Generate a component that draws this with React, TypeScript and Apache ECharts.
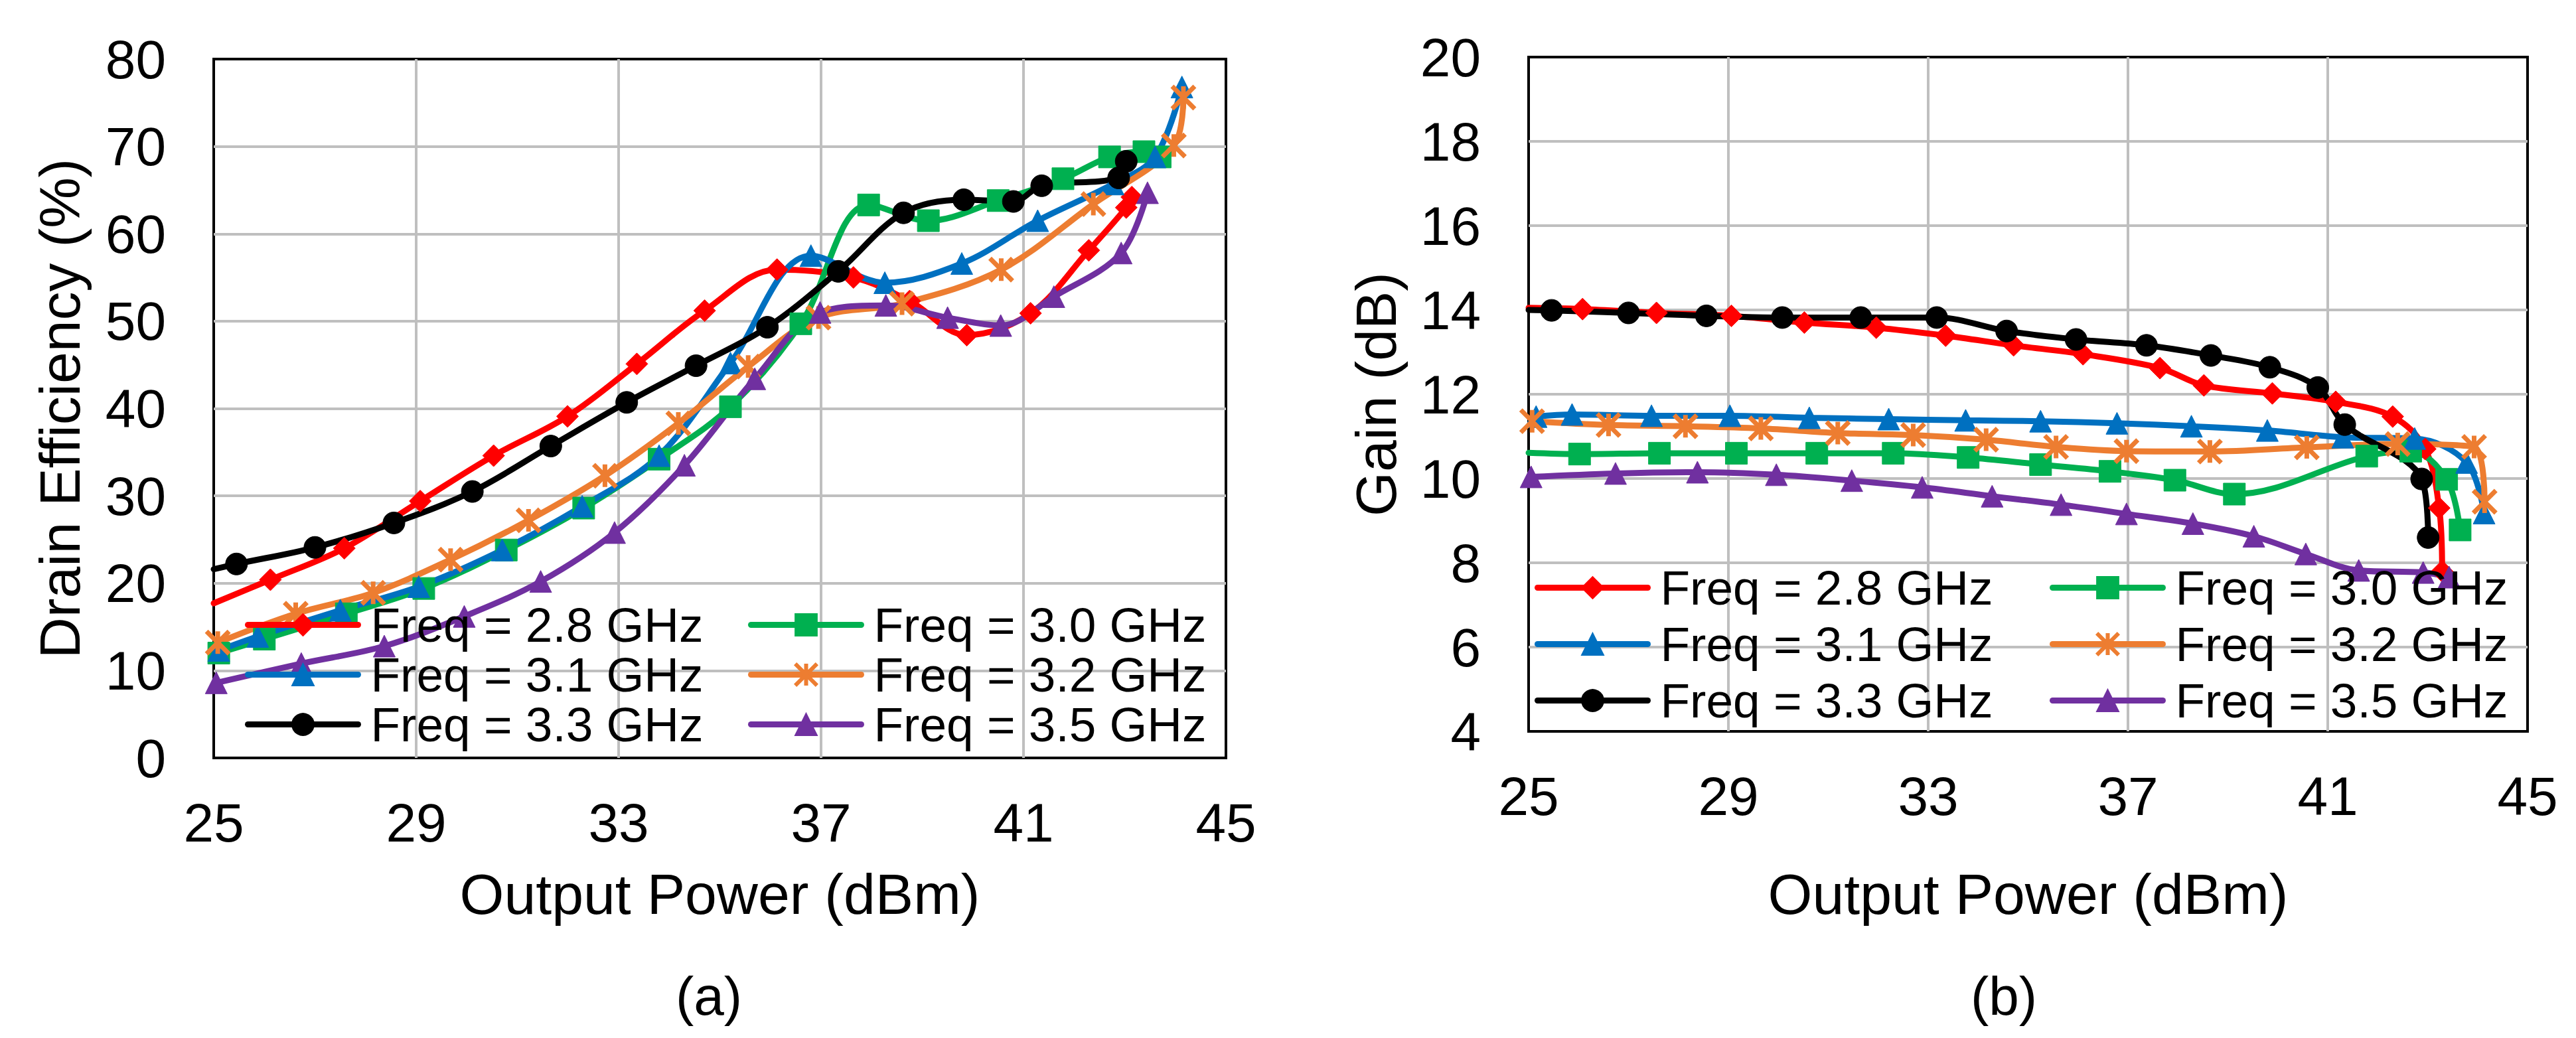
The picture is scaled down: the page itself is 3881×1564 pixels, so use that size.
import { useEffect, useRef } from "react";
import * as echarts from "echarts";

const FONT = "Liberation Sans, Arial, sans-serif";
const STAR = "path://M0,0L10,10M10,0L0,10M5,0L5,10";

const NAMES = ["Freq = 2.8 GHz", "Freq = 3.0 GHz", "Freq = 3.1 GHz", "Freq = 3.2 GHz", "Freq = 3.3 GHz", "Freq = 3.5 GHz"];
const COLORS = ["#FF0000", "#00B050", "#0070C0", "#ED7D31", "#000000", "#7030A0"];
const SYMBOLS = ["diamond", "rect", "triangle", STAR, "circle", "triangle"];

const X_TICKS = [25, 29, 33, 37, 41, 45];

// (a) drain efficiency (%) vs output power (dBm)
const de28X = [25.0, 26.12, 27.58, 29.08, 30.53, 31.99, 33.36, 34.7, 36.13, 37.64, 38.75, 39.88, 41.14, 42.29, 43.03, 43.14];
const de28Y = [17.7, 20.4, 24.0, 29.4, 34.6, 39.1, 45.1, 51.2, 55.9, 55.0, 52.3, 48.4, 50.9, 58.1, 63.0, 64.2];
const de30X = [25.1, 26.0, 27.62, 29.15, 30.78, 32.31, 33.8, 35.21, 36.6, 37.94, 39.12, 40.5, 41.78, 42.7, 43.38, 43.7];
const de30Y = [12.0, 13.6, 16.5, 19.4, 23.8, 28.6, 34.2, 40.2, 49.7, 63.3, 61.5, 63.8, 66.3, 68.8, 69.4, 68.8];
const de31X = [25.1, 25.87, 27.5, 29.05, 30.7, 32.28, 33.8, 35.21, 36.8, 38.26, 39.78, 41.28, 42.77, 43.6, 44.13];
const de31Y = [12.3, 13.9, 16.9, 19.6, 23.8, 28.8, 34.6, 45.2, 57.5, 54.4, 56.6, 61.5, 65.7, 68.8, 76.8];
const de32X = [25.08, 26.62, 28.15, 29.68, 31.22, 32.73, 34.18, 35.56, 36.95, 38.6, 40.56, 42.38, 43.97, 44.16];
const de32Y = [13.2, 16.5, 18.9, 22.7, 27.2, 32.3, 38.3, 44.8, 50.4, 52.0, 55.9, 63.4, 70.1, 75.6];
const de33X = [25.0, 25.45, 27.0, 28.56, 30.11, 31.66, 33.16, 34.53, 35.94, 37.34, 38.63, 39.82, 40.8, 41.36, 42.88, 43.03];
const de33Y = [21.6, 22.2, 24.1, 26.9, 30.5, 35.7, 40.7, 44.9, 49.3, 55.7, 62.4, 63.9, 63.7, 65.5, 66.4, 68.3];
const de35X = [25.05, 26.73, 28.37, 29.95, 31.46, 32.92, 34.3, 35.69, 36.98, 38.28, 39.5, 40.55, 41.6, 42.93, 43.45];
const de35Y = [8.6, 10.8, 12.8, 16.2, 20.2, 25.8, 33.5, 43.4, 51.0, 51.8, 50.4, 49.5, 52.8, 57.8, 64.7];

// (b) gain (dB) vs output power (dBm)
const g28X = [25.0, 26.08, 27.56, 29.06, 30.52, 31.96, 33.35, 34.71, 36.1, 37.64, 38.52, 39.89, 41.16, 42.3, 42.95, 43.23, 43.29];
const g28Y = [14.05, 14.02, 13.93, 13.86, 13.7, 13.58, 13.39, 13.16, 12.95, 12.62, 12.21, 12.02, 11.82, 11.47, 10.7, 9.3, 7.8];
const g30X = [25.0, 26.02, 27.62, 29.16, 30.77, 32.3, 33.8, 35.25, 36.64, 37.94, 39.13, 41.78, 42.66, 43.38, 43.65];
const g30Y = [10.61, 10.58, 10.6, 10.6, 10.6, 10.6, 10.5, 10.33, 10.17, 9.96, 9.63, 10.53, 10.65, 9.98, 8.78];
const g31X = [25.15, 25.87, 27.46, 29.03, 30.62, 32.21, 33.75, 35.25, 36.78, 38.27, 39.79, 41.3, 42.74, 43.78, 44.13];
const g31Y = [11.47, 11.52, 11.49, 11.49, 11.44, 11.41, 11.38, 11.36, 11.31, 11.24, 11.14, 10.98, 10.95, 10.38, 9.18];
const g32X = [25.07, 26.6, 28.14, 29.65, 31.19, 32.7, 34.16, 35.56, 36.97, 38.64, 40.58, 42.4, 43.93, 44.14];
const g32Y = [11.36, 11.27, 11.24, 11.19, 11.08, 11.03, 10.92, 10.75, 10.65, 10.64, 10.74, 10.82, 10.75, 9.45];
const g33X = [25.0, 25.46, 27.0, 28.56, 30.08, 31.65, 33.17, 34.57, 35.96, 37.37, 38.66, 39.84, 40.8, 41.34, 42.88, 43.01];
const g33Y = [14.0, 13.99, 13.93, 13.86, 13.82, 13.82, 13.82, 13.5, 13.3, 13.16, 12.92, 12.64, 12.16, 11.28, 9.99, 8.6];
const g35X = [25.05, 26.74, 28.38, 29.96, 31.47, 32.88, 34.28, 35.66, 36.97, 38.3, 39.52, 40.56, 41.62, 42.91, 43.43];
const g35Y = [10.04, 10.12, 10.15, 10.09, 9.95, 9.79, 9.58, 9.38, 9.16, 8.93, 8.63, 8.21, 7.82, 7.77, 7.66];

const DE_SETS = [[de28X, de28Y], [de30X, de30Y], [de31X, de31Y], [de32X, de32Y], [de33X, de33Y], [de35X, de35Y]];
const GAIN_SETS = [[g28X, g28Y], [g30X, g30Y], [g31X, g31Y], [g32X, g32Y], [g33X, g33Y], [g35X, g35Y]];
// series whose curve enters at the left frame edge without a visible marker there
const DE_LEAD = [0, 4];
const GAIN_LEAD = [0, 1, 4];

function makeSeries(sets: number[][][], lead: number[], axis: number) {
  return sets.map(([xs, ys], i) => ({
    type: "line" as const,
    name: NAMES[i],
    xAxisIndex: axis,
    yAxisIndex: axis,
    smooth: 0.35,
    clip: true,
    symbol: SYMBOLS[i],
    symbolSize: SYMBOLS[i] === STAR ? 34 : 33,
    symbolKeepAspect: true,
    lineStyle: { width: 9, color: COLORS[i], cap: "round" as const },
    itemStyle: { color: COLORS[i], borderColor: COLORS[i], borderWidth: SYMBOLS[i] === STAR ? 7 : 1 },
    data: xs.map((x, k) => (k === 0 && lead.includes(i) ? { value: [x, ys[k]], symbol: "none" } : [x, ys[k]])),
  }));
}

function legendCol(left: number, top: number, lh: number, idx: number[]) {
  return {
    orient: "vertical" as const,
    left,
    top,
    padding: 0,
    itemGap: 0,
    itemWidth: 166,
    itemHeight: 41,
    selectedMode: false,
    lineStyle: { width: 9 },
    textStyle: { fontFamily: FONT, fontSize: 73, color: "#000", lineHeight: lh, padding: [0, 0, 0, 14] },
    data: idx.map((i) =>
      SYMBOLS[i] === STAR
        ? { name: NAMES[i], itemStyle: { color: COLORS[i], borderColor: COLORS[i], borderWidth: 6 } }
        : { name: NAMES[i] }
    ),
  };
}

const gridLine = { show: true, showMinLine: false, showMaxLine: false, lineStyle: { color: "#BFBFBF", width: 4 } };
const tickText = { fontFamily: FONT, fontSize: 82, color: "#000" };
const nameText = { fontFamily: FONT, fontSize: 86, color: "#000" };

export default function App() {
  const ref = useRef<HTMLDivElement>(null);

  useEffect(() => {
    if (!ref.current) return;
    const chart = echarts.init(ref.current, undefined, { renderer: "svg" });
    chart.setOption({
      animation: false,
      backgroundColor: "#fff",
      grid: [
        { left: 322, top: 89, width: 1525, height: 1053, show: true, borderColor: "#000", borderWidth: 4, backgroundColor: "transparent" },
        { left: 2303, top: 86, width: 1505, height: 1016, show: true, borderColor: "#000", borderWidth: 4, backgroundColor: "transparent" },
      ],
      xAxis: [0, 1].map((g) => ({
        type: "value",
        gridIndex: g,
        min: X_TICKS[0],
        max: X_TICKS[X_TICKS.length - 1],
        interval: X_TICKS[1] - X_TICKS[0],
        axisLine: { show: false },
        axisTick: { show: false },
        axisLabel: { ...tickText, margin: 56 },
        splitLine: gridLine,
        name: "Output Power (dBm)",
        nameLocation: "middle",
        nameGap: g === 0 ? 162 : 202,
        nameTextStyle: nameText,
      })),
      yAxis: [
        {
          type: "value",
          gridIndex: 0,
          min: 0,
          max: 80,
          interval: 10,
          axisLine: { show: false },
          axisTick: { show: false },
          axisLabel: { ...tickText, margin: 72 },
          splitLine: gridLine,
          name: "Drain Efficiency (%)",
          nameLocation: "middle",
          nameGap: 189,
          nameTextStyle: nameText,
        },
        {
          type: "value",
          gridIndex: 1,
          min: 4,
          max: 20,
          interval: 2,
          axisLine: { show: false },
          axisTick: { show: false },
          axisLabel: { ...tickText, margin: 72 },
          splitLine: gridLine,
          name: "Gain (dB)",
          nameLocation: "middle",
          nameGap: 187,
          nameTextStyle: nameText,
        },
      ],
      legend: [
        legendCol(369, 904, 75, [0, 2, 4]),
        legendCol(1127, 904, 75, [1, 3, 5]),
        legendCol(2312, 843, 85, [0, 2, 4]),
        legendCol(3088, 843, 85, [1, 3, 5]),
      ],
      graphic: [
        { type: "text", x: 1068, y: 1500, style: { text: "(a)", fontFamily: FONT, fontSize: 82, fill: "#000", align: "center", verticalAlign: "middle" } },
        { type: "text", x: 3019, y: 1500, style: { text: "(b)", fontFamily: FONT, fontSize: 82, fill: "#000", align: "center", verticalAlign: "middle" } },
      ],
      series: [...makeSeries(DE_SETS, DE_LEAD, 0), ...makeSeries(GAIN_SETS, GAIN_LEAD, 1)],
    });
    return () => chart.dispose();
  }, []);

  return (
    <div
      ref={ref}
      style={{ position: "absolute", left: 0, top: 0, width: 3881, height: 1564, background: "#fff" }}
    />
  );
}
